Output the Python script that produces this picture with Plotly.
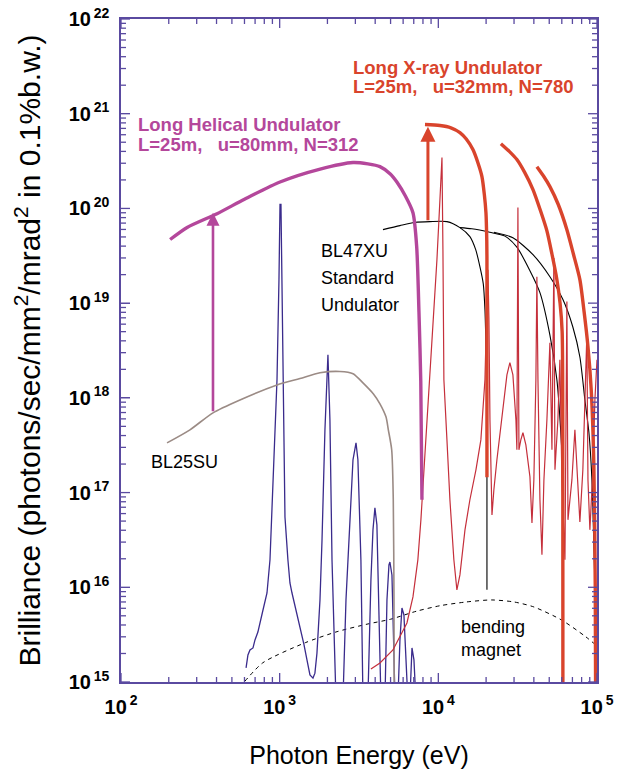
import numpy as np
import plotly.graph_objects as go

# ---------------- data (photon energy in eV, brilliance) ----------------
# Long Helical Undulator (1st harmonic tuning curve)
hel_E = [204, 261, 403, 600, 1005, 1800, 2900, 3600, 4285, 5000, 5480, 6200, 6920, 7300, 7550, 7750, 7885]
hel_B = [4.7e19, 6.3e19, 8.8e19, 1.25e20, 1.9e20, 2.6e20, 3.05e20, 2.95e20, 2.76e20, 2.3e20, 1.9e20,
         1.35e20, 9.0e19, 4.0e19, 8e18, 1.5e18, 8.4e16]

# Long X-ray Undulator tuning curves (harmonics 1, 3, 5)
xr1_E = [8238, 10236, 12000, 13680, 15000, 16520, 17800, 18830, 19500, 19960, 20200, 20250, 20250]
xr1_B = [7.68e20, 7.5e20, 7.1e20, 6.32e20, 5.4e20, 4.18e20, 3.0e20, 2.17e20, 1.4e20, 9.0e19, 4.5e19, 2.9e19, 1.45e17]
xr3_E = [24790, 28000, 31270, 35000, 39490, 44000, 48340, 52000, 55880, 58500, 60300, 60900, 60990]
xr3_B = [4.83e20, 4.0e20, 3.28e20, 2.4e20, 1.58e20, 9.5e19, 5.8e19, 3.3e19, 1.77e19, 1.0e19, 5e18, 1e17, 1e14]
xr5_E = [41800, 46000, 50490, 57000, 64600, 71000, 78000, 83000, 87700, 92000, 95500, 97500, 98400]
xr5_B = [2.76e20, 2.2e20, 1.7e20, 1.1e20, 5.97e19, 3.3e19, 1.77e19, 8e18, 3.47e18, 1.2e18, 2e17, 1e16, 1e14]

# Long X-ray Undulator spectrum (thin red)
xs_E = [3760, 4285, 5175, 6341, 6920, 7430, 7765, 8110, 8480, 9120, 9800, 10236, 10542, 10690, 10840,
        11330, 11830, 12530, 13090, 13680, 14720, 15810, 17260, 18540, 19670, 20250, 20540, 20840, 21150,
        21780, 22390, 23400, 25180, 27060, 28250, 29510, 30830, 31270, 31740, 32210, 33110, 34140, 35620,
        37780, 38910, 40000, 41200, 41800, 42450, 43690, 44980, 46280, 48340, 50490, 52010, 53500, 54330,
        56700, 58360, 60100, 62800, 64600, 65620, 69460, 72560, 75800, 78000, 81450, 86300, 87700, 90200,
        94200, 97000, 100000]
xs_B = [1.37e15, 1.59e15, 2.18e15, 4.2e15, 7.91e15, 1.95e16, 5.15e16, 1.74e17, 4.6e17, 4.1e18, 2.88e19,
        1.24e20, 3.44e20, 3.67e19, 1.55e18, 3.6e17, 8.4e16, 1.95e16, 9.4e15, 1.35e16, 4.04e16, 8.4e16,
        1.74e17, 3.6e17, 1.55e18, 1.09e19, 2.25e19, 6.7e18, 5.86e17, 5.8e16, 1.07e17, 2.22e17, 5.86e17,
        1.75e18, 2.35e18, 1.75e18, 5.86e17, 2.83e17, 1.02e20, 2.83e17, 3.6e17, 4.28e17, 3.19e17, 1.47e17,
        4.79e16, 1.36e17, 1.55e18, 1.9e19, 1.55e18, 8.4e16, 2.2e16, 1.36e17, 5.86e17, 3.82e18, 2.83e17,
        3.0e19, 1.74e17, 5.86e17, 2.52e18, 1.36e17, 1.95e16, 1.04e19, 5.15e16, 1.36e17, 4.6e17, 1.36e17,
        4.9e16, 1.74e17, 4.6e18, 1.36e17, 4.04e16, 1.74e17, 9.5e17, 2.52e18]

# BL47XU standard undulator tuning curves (harmonics 1, 3, 5)
s1_E = [4477, 5729, 7100, 8850, 11330, 13680, 15810, 17200, 18280, 19200, 19670, 19960, 20250, 20250]
s1_B = [5.97e19, 6.58e19, 7.1e19, 7.25e19, 7.25e19, 6.27e19, 5.04e19, 3.67e19, 2.43e19, 1.6e19, 8.5e18,
        3.4e18, 5.8e17, 9.4e15]
s3_E = [13680, 16250, 21120, 26300, 31270, 37780, 43690, 50490, 55880, 59000, 60990, 60990]
s3_B = [6.27e19, 6.1e19, 5.6e19, 5.1e19, 3.9e19, 2.2e19, 1.29e19, 4.6e18, 1.55e18, 4.6e17, 1.4e17, 1e14]
s5_E = [22400, 29510, 39490, 50490, 60990, 70440, 78000, 83900, 88960, 92900, 95700, 98400]
s5_B = [5.6e19, 4.9e19, 3.25e19, 1.9e19, 1.09e19, 5.6e18, 2.7e18, 9.5e17, 4.28e17, 1.36e17, 2.5e16, 4.52e15]

# BL25SU tuning curve
b25_E = [195, 272, 380, 562, 962, 1343, 1795, 2399, 2900, 3350, 3900, 4285, 4677, 4840, 5082, 5200, 5254, 5270]
b25_B = [3.35e17, 4.6e17, 6.95e17, 9.5e17, 1.37e18, 1.6e18, 1.84e18, 1.9e18, 1.8e18, 1.44e18, 1.1e18,
         8.65e17, 6.3e17, 4.6e17, 2.83e17, 8.4e16, 7.35e15, 5e14]

# BL25SU spectrum (blue)
bs_E = [614, 631, 650, 679, 699, 729, 785, 832, 869, 908, 962, 990, 1005, 1019, 1049, 1080, 1127, 1161,
        1196, 1268, 1343, 1422, 1486, 1552, 1622, 1668, 1718, 1795, 1849, 1929, 2015, 2074, 2137, 2199,
        2264, 2506, 2618, 2775, 2898, 3028, 3112, 3251, 3350, 3597, 3760, 3873, 3984, 4100, 4225, 4348,
        4610, 4745, 4884, 4953, 5101, 5254, 5335, 5563, 5729, 5898, 6070, 6341, 6430, 6620, 6720, 6822,
        7020, 7220]
bs_B = [1.41e15, 1.93e15, 2.18e15, 2.29e15, 2.78e15, 3.37e15, 5.76e15, 8.7e15, 1.95e16, 1.47e17, 1.55e18,
        1.77e19, 1.10e20, 1.10e20, 1.55e18, 5.53e16, 1.95e16, 1.11e16, 8.7e15, 5.76e15, 3.81e15, 2.49e15,
        1.71e15, 1.19e15, 1.10e15, 1.24e15, 2.02e15, 7.35e15, 3.16e16, 4.6e17, 2.85e18, 5.86e17, 1.95e16,
        2.18e15, 6.5e14, 6.5e14, 7.35e15, 5.15e16, 2.22e17, 3.35e17, 2.22e17, 1.95e16, 6.5e14, 6.5e14,
        1.2e16, 4.04e16, 6.89e16, 4.56e16, 7.35e15, 6.5e14, 6.5e14, 7.35e15, 1.72e16, 1.85e16, 1.35e16,
        2.78e15, 6.5e14, 6.5e14, 2.78e15, 6.04e15, 5.1e15, 1.05e15, 6.5e14, 6.5e14, 1.71e15, 2.29e15,
        1.71e15, 6.5e14]

# bending magnet (dashed)
bm_E = [604, 785, 1450, 2300, 3600, 5000, 7300, 10300, 15000, 21600, 30000, 40000, 60000, 85000, 100000]
bm_B = [1.02e15, 1.6e15, 2.6e15, 3.4e15, 4.1e15, 4.6e15, 5.6e15, 6.4e15, 7.0e15, 7.35e15, 7.0e15,
        6.2e15, 4.5e15, 3.0e15, 2.4e15]

# arrows (energy, from, to)
arrow_hel = (380, 6.95e17, 9.0e19)
arrow_xr = (8600, 7.25e19, 7.3e20)

x_exponents = [2, 3, 4, 5]
y_exponents = list(range(15, 23))
x_tick_vals = [10.0 ** e for e in x_exponents]
x_tick_text = ["10<sup>\u2009%d</sup>" % e for e in x_exponents]
y_tick_vals = [10.0 ** e for e in y_exponents]
y_tick_text = ["10<sup>\u2009%d</sup>" % e for e in y_exponents]
minor_x = [m * 10.0 ** d for d in x_exponents[:-1] for m in range(2, 10)]
minor_y = [m * 10.0 ** d for d in y_exponents[:-1] for m in range(2, 10)]

# ---------------- styling ----------------
FRAME = "#5a4aa0"
MAG = "#b4479b"
RED = "#d9442c"
THINRED = "#c52f3b"
BLUE = "#3a2b8c"
BROWN = "#9b8b85"
FONT = "Liberation Sans, Arial, sans-serif"
PL, PR, PT, PB = 121, 597, 19, 682
XR, YR = (float(x_exponents[0]), float(x_exponents[-1])), (float(y_exponents[0]), float(y_exponents[-1]))

fig = go.Figure()


def add(E, B, color, width, dash=None, shape="linear"):
    fig.add_trace(go.Scatter(x=E, y=B, mode="lines",
                             line=dict(color=color, width=width, dash=dash, shape=shape,
                                       smoothing=0.7 if shape == "spline" else None),
                             hoverinfo="skip", showlegend=False))


add(bm_E, bm_B, "black", 1, dash="4px,4px", shape="spline")
add(bs_E, bs_B, BLUE, 1.3)
add(b25_E, b25_B, BROWN, 1.6, shape="spline")
add(s1_E, s1_B, "black", 1.1, shape="spline")
add(s3_E, s3_B, "black", 1.1, shape="spline")
add(s5_E, s5_B, "black", 1.1, shape="spline")
add(xs_E, xs_B, THINRED, 1.2)
add(hel_E, hel_B, MAG, 3.4, shape="spline")
add(xr1_E, xr1_B, RED, 3.4, shape="spline")
add(xr3_E, xr3_B, RED, 3.4, shape="spline")
add(xr5_E, xr5_B, RED, 3.4, shape="spline")

# inside tick marks on all four sides (frame decoration built from the tick values)
dec_per_px_x = (XR[1] - XR[0]) / (PR - PL)
dec_per_px_y = (YR[1] - YR[0]) / (PB - PT)
tx, ty = [], []
for vals, ln in [(x_tick_vals, 9), (minor_x, 5)]:
    for v in vals:
        tx += [float(v), float(v), None, float(v), float(v), None]
        ty += [10.0 ** YR[0], 10.0 ** (YR[0] + ln * dec_per_px_y), None,
               10.0 ** YR[1], 10.0 ** (YR[1] - ln * dec_per_px_y), None]
for vals, ln in [(y_tick_vals, 9), (minor_y, 5)]:
    for v in vals:
        ty += [float(v), float(v), None, float(v), float(v), None]
        tx += [10.0 ** XR[0], 10.0 ** (XR[0] + ln * dec_per_px_x), None,
               10.0 ** XR[1], 10.0 ** (XR[1] - ln * dec_per_px_x), None]
fig.add_trace(go.Scatter(x=tx, y=ty, mode="lines", line=dict(color=FRAME, width=1.3),
                         hoverinfo="skip", showlegend=False, connectgaps=False))

# arrows
for (e, b0, b1), col, w in [(arrow_hel, MAG, 2.6), (arrow_xr, RED, 3.0)]:
    fig.add_annotation(x=float(np.log10(e)), y=float(np.log10(b1)), ax=float(np.log10(e)),
                       ay=float(np.log10(b0)), xref="x", yref="y", axref="x", ayref="y", text="",
                       showarrow=True, arrowhead=2, arrowsize=1.0, arrowwidth=w, arrowcolor=col,
                       standoff=0)


def txt(s, px, py, color, size, bold=False):
    fig.add_annotation(x=(px - PL) / (PR - PL), y=(PB - py) / (PB - PT), xref="paper", yref="paper",
                       text=s, showarrow=False, xanchor="left", yanchor="middle",
                       font=dict(family=FONT, size=size, color=color, weight="bold" if bold else "normal"))


txt("Long Helical Undulator", 136, 125, MAG, 18.5, True)
txt("L=25m,\u00a0\u00a0\u00a0u=80mm, N=312", 136, 144, MAG, 18.5, True)
txt("Long X-ray Undulator", 351, 68, RED, 18.5, True)
txt("L=25m,\u00a0\u00a0\u00a0u=32mm, N=780", 351, 87, RED, 18.5, True)
txt("BL47XU", 319, 251, "black", 18)
txt("Standard", 319, 278, "black", 18)
txt("Undulator", 319, 305, "black", 18)
txt("BL25SU", 149, 462, "black", 18)
txt("bending", 459, 627, "black", 18)
txt("magnet", 459, 650, "black", 18)

axis_common = dict(type="log", showline=True, linecolor=FRAME, linewidth=1.5, mirror=True,
                   ticks="inside", ticklen=9, tickwidth=1.3, tickcolor=FRAME,
                   showgrid=False, zeroline=False, tickmode="array",
                   tickfont=dict(family=FONT, size=20, color="black", weight="bold"))

fig.update_layout(
    xaxis=dict(range=list(XR), tickvals=x_tick_vals, ticktext=x_tick_text,
               title=dict(text="Photon Energy (eV)", font=dict(family=FONT, size=25, color="black"),
                          standoff=31),
               ticklabelstandoff=6, **axis_common),
    yaxis=dict(range=list(YR), tickvals=y_tick_vals, ticktext=y_tick_text,
               title=dict(text="Brilliance (photons/sec/mm<sup>2</sup>/mrad<sup>2</sup> in 0.1%b.w.)",
                          font=dict(family=FONT, size=30, color="black"), standoff=19),
               ticklabelstandoff=6, **axis_common),
)

fig.update_layout(width=633, height=769, margin=dict(l=PL, r=633 - PR, t=PT, b=769 - PB, autoexpand=False),
                  plot_bgcolor="white", paper_bgcolor="white", font=dict(family=FONT))

fig.write_html("out.html", config={"displayModeBar": False},
               post_script="document.body.style.margin='0';")
